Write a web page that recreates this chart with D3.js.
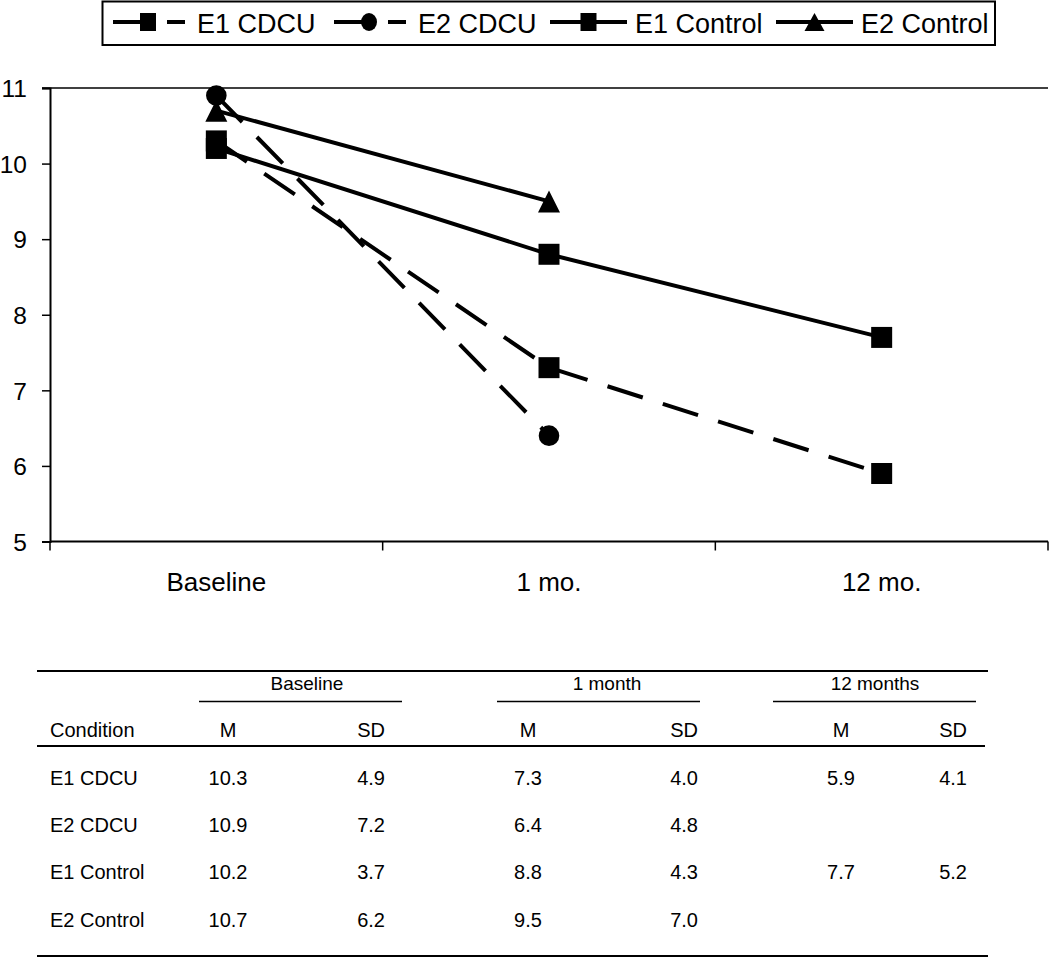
<!DOCTYPE html>
<html>
<head>
<meta charset="utf-8">
<script src="https://cdn.jsdelivr.net/npm/d3@7"></script>
<style>
  html, body { margin: 0; padding: 0; background: #fff; }
  svg { display: block; font-family: "Liberation Sans", Arial, sans-serif; }
</style>
</head>
<body>
<svg id="chart" width="1050" height="958"></svg>
<script>
// ---------- DATA ----------
const timepoints = ["Baseline", "1 mo.", "12 mo."];
const conditions = ["E1 CDCU", "E2 CDCU", "E1 Control", "E2 Control"];
const e1CdcuMean    = [10.3, 7.3, 5.9];
const e2CdcuMean    = [10.9, 6.4, null];
const e1ControlMean = [10.2, 8.8, 7.7];
const e2ControlMean = [10.7, 9.5, null];
const e1CdcuSD    = [4.9, 4.0, 4.1];
const e2CdcuSD    = [7.2, 4.8, null];
const e1ControlSD = [3.7, 4.3, 5.2];
const e2ControlSD = [6.2, 7.0, null];
const yTicks = [5, 6, 7, 8, 9, 10, 11];
const tableGroups = ["Baseline", "1 month", "12 months"];
const statLabels = ["M", "SD"];

// ---------- SERIES (built from arrays) ----------
const series = [
  { name: conditions[0], means: e1CdcuMean,    sds: e1CdcuSD,    marker: "square",   dashed: true },
  { name: conditions[1], means: e2CdcuMean,    sds: e2CdcuSD,    marker: "circle",   dashed: true },
  { name: conditions[2], means: e1ControlMean, sds: e1ControlSD, marker: "square",   dashed: false },
  { name: conditions[3], means: e2ControlMean, sds: e2ControlSD, marker: "triangle", dashed: false }
];

const svg = d3.select("#chart");

// ---------- SCALES ----------
const plotLeft = 50, plotRight = 1048, plotTop = 88, plotBottom = 541.5;
const x = d3.scaleBand().domain(timepoints).range([plotLeft, plotRight]).paddingInner(0).paddingOuter(0);
const xc = d => x(d) + x.bandwidth() / 2;
const y = d3.scaleLinear().domain([5, 11]).range([plotBottom, plotTop]);

// top frame line
svg.append("line")
  .attr("x1", plotLeft - 8).attr("x2", plotRight)
  .attr("y1", y(11)).attr("y2", y(11))
  .attr("stroke", "#000").attr("stroke-width", 1.5);

// Y axis
const yAxis = svg.append("g").attr("transform", `translate(${plotLeft},0)`)
  .call(d3.axisLeft(y).tickValues(yTicks).tickSize(8).tickPadding(15).tickFormat(d3.format("d")));
yAxis.select(".domain").attr("stroke", "#000").attr("stroke-width", 2);
yAxis.selectAll(".tick line").attr("stroke", "#000").attr("stroke-width", 1.5);
yAxis.selectAll(".tick text").attr("font-size", 24.5).attr("fill", "#000")
  .attr("font-family", "'Liberation Sans', Arial, sans-serif").attr("dy", "0.36em");

// X axis
const xAxisG = svg.append("g").attr("transform", `translate(0,${plotBottom})`);
xAxisG.append("line").attr("x1", plotLeft).attr("x2", plotRight).attr("y1", 0).attr("y2", 0)
  .attr("stroke", "#000").attr("stroke-width", 2);
const boundaries = timepoints.map(t => x(t)).concat([x(timepoints[timepoints.length - 1]) + x.bandwidth()]);
xAxisG.selectAll("line.xt").data(boundaries).enter().append("line").attr("class", "xt")
  .attr("x1", d => d).attr("x2", d => d).attr("y1", 0).attr("y2", 9)
  .attr("stroke", "#000").attr("stroke-width", 1.5);
xAxisG.selectAll("text").data(timepoints).enter().append("text")
  .attr("x", d => xc(d)).attr("y", 49).attr("text-anchor", "middle")
  .attr("font-size", 26).attr("fill", "#000").text(d => d);

// ---------- LINES ----------
const line = d3.line()
  .defined(d => d.v != null)
  .x(d => xc(d.t)).y(d => y(d.v));

function markerPath(type, cx, cy, s) {
  if (type === "square") {
    const h = s.sq / 2, hv = (s.sqh || s.sq) / 2;
    return `M${cx - h},${cy - hv}H${cx + h}V${cy + hv}H${cx - h}Z`;
  }
  if (type === "circle") {
    const rx = s.r, ry = s.ry || s.r;
    return `M${cx - rx},${cy}A${rx},${ry} 0 1,0 ${cx + rx},${cy}A${rx},${ry} 0 1,0 ${cx - rx},${cy}Z`;
  }
  return `M${cx},${cy - s.th / 2}L${cx + s.tw / 2},${cy + s.th / 2}L${cx - s.tw / 2},${cy + s.th / 2}Z`;
}

const plotSizes = { sq: 21, r: 10.3, tw: 22, th: 22 };
const dashPattern = "37,21";

series.forEach(s => {
  const pts = timepoints.map((t, i) => ({ t, v: s.means[i] }));
  svg.append("path").datum(pts)
    .attr("d", line)
    .attr("fill", "none").attr("stroke", "#000").attr("stroke-width", 4)
    .attr("stroke-dasharray", s.dashed ? dashPattern : null);
});
series.forEach(s => {
  const pts = timepoints.map((t, i) => ({ t, v: s.means[i] })).filter(d => d.v != null);
  svg.append("g").selectAll("path").data(pts).enter().append("path")
    .attr("d", d => markerPath(s.marker, xc(d.t), y(d.v), plotSizes))
    .attr("fill", "#000");
});

// ---------- LEGEND ----------
const legend = svg.append("g");
legend.append("rect").attr("x", 102.5).attr("y", 1.5).attr("width", 892.5).attr("height", 43.5)
  .attr("fill", "#fff").attr("stroke", "#000").attr("stroke-width", 2);
const legendX = [113, 334, 550, 776];
const legendSizes = { sq: 16, sqh: 18, r: 8, ry: 9, tw: 20, th: 18 };
const legendLineY = 22;
series.forEach((s, i) => {
  const x0 = legendX[i];
  const len = s.dashed ? 72 : 77;
  legend.append("line").attr("x1", x0).attr("x2", x0 + len)
    .attr("y1", legendLineY).attr("y2", legendLineY)
    .attr("stroke", "#000").attr("stroke-width", 4)
    .attr("stroke-dasharray", s.dashed ? "34,20" : null);
  const mx = s.dashed ? x0 + 35 : x0 + len / 2;
  legend.append("path").attr("d", markerPath(s.marker, mx, legendLineY, legendSizes)).attr("fill", "#000");
  legend.append("text").attr("x", x0 + len + (s.dashed ? 12 : 8)).attr("y", 33)
    .attr("font-size", 27).attr("fill", "#000").text(s.name);
});

// ---------- TABLE ----------
const table = svg.append("g").attr("font-size", 20).attr("fill", "#000");
const tblLeft = 37, tblRight = 988;
const mCenters = [228, 528, 841];
const sdRights = [385, 698, 967];
const groupCenters = [307, 607, 875];
const groupSpans = [[199, 402], [497, 700], [773, 976]];
const rowY = d3.scaleLinear().domain([0, 3]).range([785, 926.7]);

table.append("line").attr("x1", tblLeft).attr("x2", tblRight).attr("y1", 671).attr("y2", 671)
  .attr("stroke", "#000").attr("stroke-width", 2);
table.append("line").attr("x1", tblLeft).attr("x2", 985).attr("y1", 746).attr("y2", 746)
  .attr("stroke", "#000").attr("stroke-width", 2);
table.append("line").attr("x1", tblLeft).attr("x2", tblRight).attr("y1", 956).attr("y2", 956)
  .attr("stroke", "#000").attr("stroke-width", 2);

tableGroups.forEach((g, i) => {
  table.append("text").attr("x", groupCenters[i]).attr("y", 690).attr("text-anchor", "middle")
    .attr("font-size", 19).text(g);
  table.append("line").attr("x1", groupSpans[i][0]).attr("x2", groupSpans[i][1])
    .attr("y1", 701.5).attr("y2", 701.5).attr("stroke", "#000").attr("stroke-width", 1.5);
  table.append("text").attr("x", mCenters[i]).attr("y", 737).attr("text-anchor", "middle").text(statLabels[0]);
  table.append("text").attr("x", sdRights[i]).attr("y", 737).attr("text-anchor", "end").text(statLabels[1]);
});
table.append("text").attr("x", 50).attr("y", 737).text("Condition");

const fmt = d3.format(".1f");
series.forEach((s, r) => {
  table.append("text").attr("x", 50).attr("y", rowY(r)).text(s.name);
  s.means.forEach((v, i) => {
    if (v == null) return;
    table.append("text").attr("x", mCenters[i]).attr("y", rowY(r)).attr("text-anchor", "middle").text(fmt(v));
  });
  s.sds.forEach((v, i) => {
    if (v == null) return;
    table.append("text").attr("x", sdRights[i]).attr("y", rowY(r)).attr("text-anchor", "end").text(fmt(v));
  });
});
</script>
</body>
</html>
